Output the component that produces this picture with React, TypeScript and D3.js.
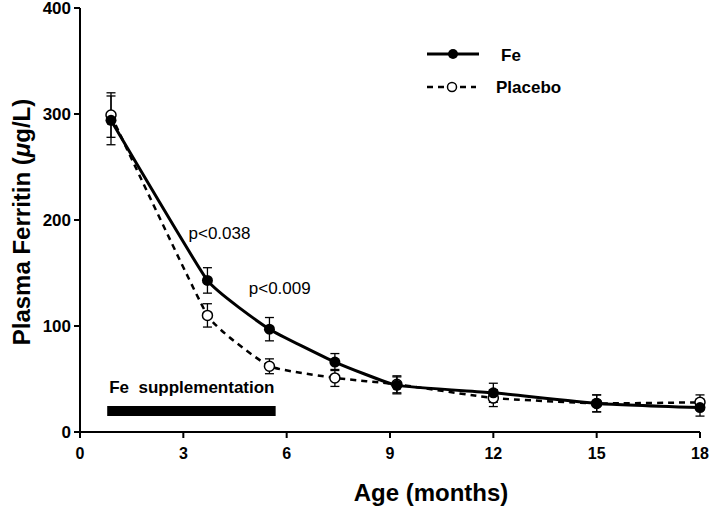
import React from "react";
import * as d3 from "d3";

const months = [0.9, 3.7, 5.5, 7.4, 9.2, 12, 15, 18];
const feValues = [294, 143, 97, 66, 44, 37, 27, 23];
const feErrors = [23, 12, 11, 8, 8, 9, 8, 8];
const placeboValues = [299, 110, 62, 51, 45, 32, 27, 28];
const placeboErrors = [21, 11, 7, 8, 8, 8, 8, 7];
const xTicks = [0, 3, 6, 9, 12, 15, 18];
const yTicks = [0, 100, 200, 300, 400];
const supplementation = [0.79, 5.68];
const annotations = [
  { label: "p<0.038", month: 3.15, value: 182 },
  { label: "p<0.009", month: 4.9, value: 130 },
];

const W = 712;
const H = 508;
const FONT = "'Liberation Sans', Arial, Helvetica, sans-serif";

export default function App() {
  const x = d3.scaleLinear().domain([0, 18]).range([80, 700]);
  const y = d3.scaleLinear().domain([0, 400]).range([432, 8]);

  const feData = months.map((m, i) => ({ m, v: feValues[i], e: feErrors[i] }));
  const plData = months.map((m, i) => ({ m, v: placeboValues[i], e: placeboErrors[i] }));

  const line = d3
    .line<{ m: number; v: number }>()
    .x((d) => x(d.m))
    .y((d) => y(d.v))
    .curve(d3.curveCardinal.tension(0.65));

  const errBar = (d: { m: number; v: number; e: number }, key: string) => {
    const cx = x(d.m);
    const top = y(d.v + d.e);
    const bot = y(d.v - d.e);
    return (
      <g key={key} stroke="#000" strokeWidth={1.3}>
        <line x1={cx} x2={cx} y1={top} y2={bot} />
        <line x1={cx - 4.5} x2={cx + 4.5} y1={top} y2={top} />
        <line x1={cx - 4.5} x2={cx + 4.5} y1={bot} y2={bot} />
      </g>
    );
  };

  return (
    <svg
      width={W}
      height={H}
      style={{ position: "absolute", left: 0, top: 0, background: "#fff" }}
      fontFamily={FONT}
    >
      <rect width={W} height={H} fill="#fff" />
      {/* axes */}
      <line x1={80} x2={80} y1={y(400)} y2={y(0)} stroke="#000" strokeWidth={2} />
      <line x1={80} x2={700} y1={y(0)} y2={y(0)} stroke="#000" strokeWidth={2} />
      {yTicks.map((t) => (
        <g key={"y" + t}>
          <line x1={74} x2={80} y1={y(t)} y2={y(t)} stroke="#000" strokeWidth={2} />
          <text
            x={71}
            y={y(t) + 6}
            textAnchor="end"
            fontSize={17}
            fontWeight="bold"
          >
            {t}
          </text>
        </g>
      ))}
      {xTicks.map((t) => (
        <g key={"x" + t}>
          <line x1={x(t)} x2={x(t)} y1={y(0)} y2={y(0) + 6} stroke="#000" strokeWidth={2} />
          <text x={x(t)} y={459} textAnchor="middle" fontSize={16} fontWeight="bold">
            {t}
          </text>
        </g>
      ))}
      <text
        transform={`translate(30,222) rotate(-90)`}
        textAnchor="middle"
        fontSize={24}
        fontWeight="bold"
      >
        Plasma Ferritin (<tspan fontStyle="italic">μ</tspan>g/L)
      </text>
      <text x={431} y={501} textAnchor="middle" fontSize={24} fontWeight="bold">
        Age (months)
      </text>

      {/* supplementation bar */}
      <text x={x(supplementation[0]) + 2} y={393} fontSize={17} fontWeight="bold">
        Fe{"\u00a0\u00a0"}supplementation
      </text>
      <rect
        x={x(supplementation[0])}
        y={406}
        width={x(supplementation[1]) - x(supplementation[0])}
        height={10}
        fill="#000"
      />

      {/* error bars */}
      {plData.map((d, i) => errBar(d, "pe" + i))}
      {feData.map((d, i) => errBar(d, "fe" + i))}

      {/* lines */}
      <path
        d={line(plData) || ""}
        fill="none"
        stroke="#000"
        strokeWidth={2.5}
        strokeDasharray="6,5"
      />
      <path d={line(feData) || ""} fill="none" stroke="#000" strokeWidth={3} />

      {/* markers */}
      {plData.map((d, i) => (
        <circle
          key={"pc" + i}
          cx={x(d.m)}
          cy={y(d.v)}
          r={5}
          fill="#fff"
          stroke="#000"
          strokeWidth={1.5}
        />
      ))}
      {feData.map((d, i) => (
        <circle key={"fc" + i} cx={x(d.m)} cy={y(d.v)} r={5.5} fill="#000" />
      ))}

      {/* annotations */}
      {annotations.map((a) => (
        <text key={a.label} x={x(a.month)} y={y(a.value)} fontSize={17}>
          {a.label}
        </text>
      ))}

      {/* legend */}
      <line x1={427} x2={479} y1={54} y2={54} stroke="#000" strokeWidth={3} />
      <circle cx={453} cy={54} r={5} fill="#000" />
      <text x={501} y={61} fontSize={17} fontWeight="bold">
        Fe
      </text>
      <line
        x1={427}
        x2={476}
        y1={87}
        y2={87}
        stroke="#000"
        strokeWidth={2.5}
        strokeDasharray="6,5"
      />
      <circle cx={452} cy={87} r={4.5} fill="#fff" stroke="#000" strokeWidth={1.5} />
      <text x={496} y={93} fontSize={17} fontWeight="bold">
        Placebo
      </text>
    </svg>
  );
}
